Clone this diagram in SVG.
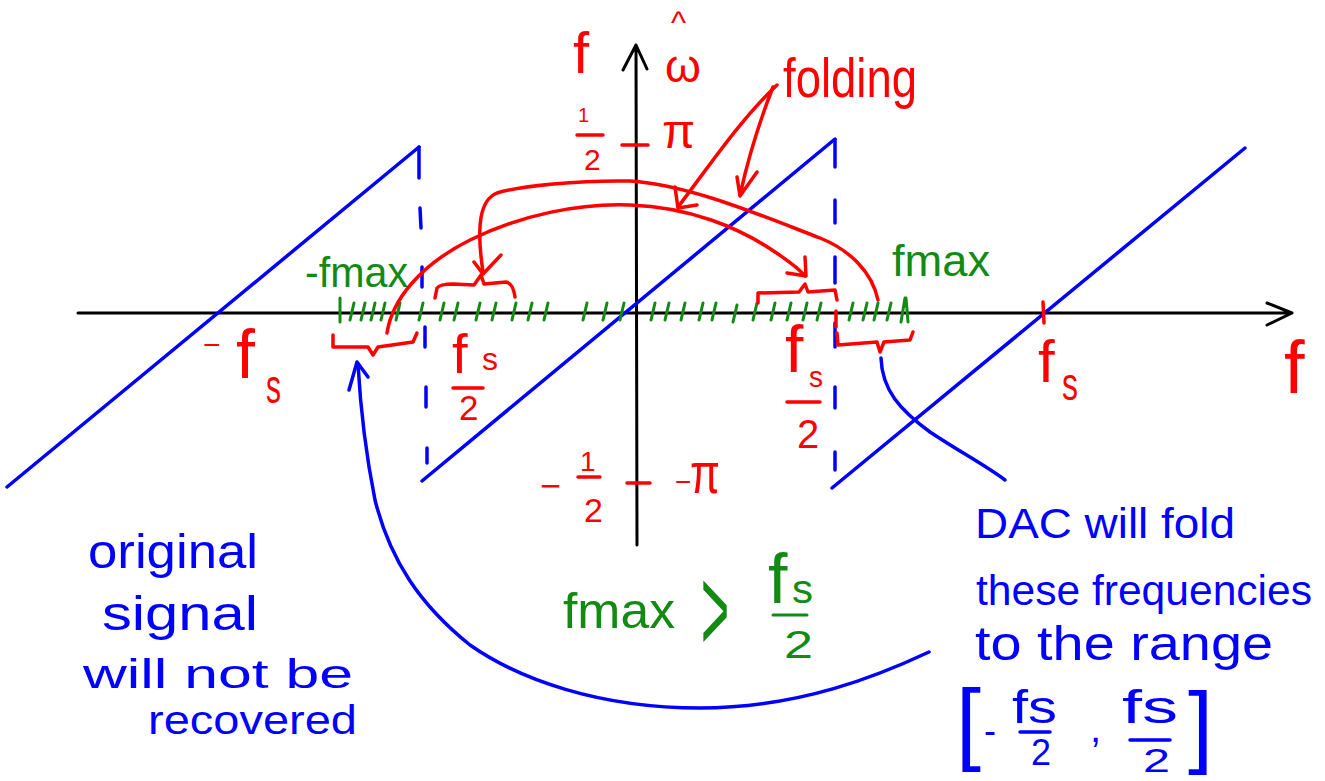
<svg xmlns="http://www.w3.org/2000/svg" width="1325" height="781" viewBox="0 0 1325 781">
<style>
.ax{stroke:#000;stroke-width:3;fill:none;stroke-linecap:round;stroke-linejoin:round}
.bl{stroke:#0000ff;stroke-width:3.5;fill:none;stroke-linecap:round;stroke-linejoin:round}
.rd{stroke:#ff0000;stroke-width:3.5;fill:none;stroke-linecap:round;stroke-linejoin:round}
.gr{stroke:#138a13;stroke-width:3;fill:none;stroke-linecap:round}
text{font-family:"Liberation Sans",Arial,sans-serif}
.rt{fill:#ff0000}
.bt{fill:#0000ff}
.gt{fill:#138a13}
</style>
<rect width="1325" height="781" fill="#fff"/>

<g id="axes">
  <path class="ax" d="M78,313 L1292,313 M1267,303 L1292,313 L1267,325"/>
  <path class="ax" d="M637,545 L636,45 M623,70 L636,45 L647,69"/>
</g>

<g id="sawtooth">
  <path class="bl" d="M7,487 L419,147 M422,481 L835,139 M832,488 L1245,148"/>
  <path class="bl" d="M419,147 L419,178 M420,208 L421,228 M422,267 L422,287 M425,327 L425,347 M426,387 L426,407 M427,448 L427,463"/>
  <path class="bl" d="M835,140 L835,167 M835,200 L835,223 M835,257 L835,283 M835,323 L835,347 M835,387 L835,408 M835,452 L835,470"/>
</g>

<g id="ticks">
  <path class="gr" d="M340,322 L340,298 M350,320 L354,303 M361,320 L365,303 M371,320 L375,303 M381,320 L385,303 M396,320 L400,303 M419,320 L423,303 M440,320 L444,303 M454,320 L458,303 M476,320 L480,303 M492,320 L496,303 M512,320 L516,303 M528,320 L532,303 M544,320 L548,303 M583,320 L587,303 M603,320 L607,303 M620,320 L624,303 M651,320 L655,303 M665,320 L669,303 M681,320 L685,303 M699,320 L703,303 M712,320 L716,303 M733,322 L737,305 M753,320 L757,303 M771,320 L775,303 M787,320 L791,303 M803,320 L807,303 M817,320 L821,303 M849,320 L853,303 M863,320 L867,303 M874,320 L878,303 M887,320 L891,303 M901,322 L905,298 M908,322 L906,298"/>
  <path class="rd" d="M1043,302 L1044,323 M836,311 L836,327 M622,145 L648,145 M627,483 L650,483"/>
</g>

<g id="brackets">
  <path class="rd" d="M333,335 L333,347 L368,347 L373,355 L378,347 L413,342 L417,333"/>
  <path class="rd" d="M435,298 L437,288 Q440,284 453,284 L474,285 L481,275 L484,284 L506,282 Q513,283 515,297"/>
  <path class="rd" d="M758,303 L758,293 L799,292 L805,284 L808,292 L835,290 L837,300"/>
  <path class="rd" d="M837,333 L838,345 L877,342 L880,352 L884,342 L910,340 L913,332"/>
</g>

<g id="connectors">
  <path class="rd" d="M387,333 C392,300 420,265 470,240 C520,215 580,203 630,205 C690,207 740,228 775,252 C790,262 800,270 805,276"/>
  <path class="rd" d="M787,273 L806,276 L805,257"/>
  <path class="rd" d="M878,300 C872,272 850,250 820,238 C760,215 690,185 630,181 C580,180 520,186 497,193 C480,200 476,225 483,272"/>
  <path class="rd" d="M474,262 L483,274 L501,255"/>
  <path class="rd" d="M777,85 C740,120 710,165 678,207 M675,187 L678,208 L697,205"/>
  <path class="rd" d="M773,87 C760,120 750,150 740,195 M737,177 L740,196 L757,172"/>
  <path class="bl" d="M881,358 C882,390 900,410 930,432 C960,452 985,465 1005,480"/>
  <path class="bl" d="M929,652 C880,675 800,708 700,708 C600,708 520,680 470,645 C420,605 390,560 375,500 C365,450 360,400 358,364"/>
  <path class="bl" d="M349,390 L357,362 L368,377"/>
</g>

<g id="red-labels">
  <text class="rt" x="573" y="73" font-size="58">f</text>
  <text class="rt" x="671" y="33" font-size="32">^</text>
  <text class="rt" x="665" y="82" font-size="46">ω</text>
  <text class="rt" x="578" y="122" font-size="20">1</text>
  <line class="rd" x1="577" y1="135" x2="603" y2="135"/>
  <text class="rt" x="584" y="170" font-size="30">2</text>
  <text class="rt" x="662" y="148" font-size="48">π</text>
  <text class="rt" x="540" y="498" font-size="36">−</text>
  <text class="rt" x="580" y="471" font-size="28">1</text>
  <line class="rd" x1="578" y1="477" x2="600" y2="477"/>
  <text class="rt" x="584" y="522" font-size="34">2</text>
  <text class="rt" x="675" y="491" font-size="28">−</text>
  <text class="rt" x="690" y="493" font-size="58" textLength="30" lengthAdjust="spacingAndGlyphs">π</text>
  <text class="rt" x="203" y="355" font-size="30">−</text>
  <text class="rt" x="236" y="378" font-size="68">f</text>
  <text class="rt" x="266" y="403" font-size="48" textLength="15" lengthAdjust="spacingAndGlyphs">s</text>
  <text class="rt" x="452" y="373" font-size="56">f</text>
  <text class="rt" x="482" y="370" font-size="32" textLength="16" lengthAdjust="spacingAndGlyphs">s</text>
  <line class="rd" x1="453" y1="388" x2="483" y2="388"/>
  <text class="rt" x="459" y="420" font-size="35">2</text>
  <text class="rt" x="785" y="372" font-size="66">f</text>
  <text class="rt" x="809" y="387" font-size="30" textLength="14" lengthAdjust="spacingAndGlyphs">s</text>
  <line class="rd" x1="787" y1="402" x2="820" y2="402"/>
  <text class="rt" x="797" y="448" font-size="40">2</text>
  <text class="rt" x="1038" y="382" font-size="60">f</text>
  <text class="rt" x="1062" y="400" font-size="46" textLength="16" lengthAdjust="spacingAndGlyphs">s</text>
  <text class="rt" x="1284" y="393" font-size="74">f</text>
  <text class="rt" x="783" y="97" font-size="56" textLength="134" lengthAdjust="spacingAndGlyphs">folding</text>
</g>

<g id="green-labels">
  <text class="gt" x="305" y="287" font-size="42" textLength="103" lengthAdjust="spacingAndGlyphs">-fmax</text>
  <text class="gt" x="892" y="276" font-size="44" textLength="98" lengthAdjust="spacingAndGlyphs">fmax</text>
  <text class="gt" x="563" y="628" font-size="50" textLength="112" lengthAdjust="spacingAndGlyphs">fmax</text>
  <text class="gt" transform="translate(715,651) scale(0.6,1.5)" text-anchor="middle" font-size="80">&gt;</text>
  <text class="gt" x="768" y="603" font-size="70">f</text>
  <text class="gt" x="792" y="603" font-size="40" textLength="21" lengthAdjust="spacingAndGlyphs">s</text>
  <line class="gr" x1="773" y1="615" x2="807" y2="615"/>
  <text class="gt" x="784" y="658" font-size="38" textLength="29" lengthAdjust="spacingAndGlyphs">2</text>
</g>

<g id="note-dac">
  <text class="bt" x="975" y="538" font-size="42" textLength="260" lengthAdjust="spacingAndGlyphs">DAC will fold</text>
  <text class="bt" x="976" y="605" font-size="43" textLength="336" lengthAdjust="spacingAndGlyphs">these frequencies</text>
  <text class="bt" x="975" y="660" font-size="48" textLength="298" lengthAdjust="spacingAndGlyphs">to the range</text>
  <text class="bt" x="956" y="753" font-size="90">[</text>
  <text class="bt" x="984" y="743" font-size="36">-</text>
  <text class="bt" x="1012" y="723" font-size="46" textLength="45" lengthAdjust="spacingAndGlyphs">fs</text>
  <line class="bl" x1="1020" y1="732" x2="1050" y2="732"/>
  <text class="bt" x="1031" y="765" font-size="36" textLength="20" lengthAdjust="spacingAndGlyphs">2</text>
  <text class="bt" x="1090" y="742" font-size="40">,</text>
  <text class="bt" x="1122" y="723" font-size="46" textLength="56" lengthAdjust="spacingAndGlyphs">fs</text>
  <line class="bl" x1="1130" y1="740" x2="1170" y2="740"/>
  <text class="bt" x="1143" y="772" font-size="34" textLength="27" lengthAdjust="spacingAndGlyphs">2</text>
  <text class="bt" x="1188" y="756" font-size="90">]</text>
</g>

<g id="note-original">
  <text class="bt" x="88" y="568" font-size="48" textLength="170" lengthAdjust="spacingAndGlyphs">original</text>
  <text class="bt" x="102" y="630" font-size="48" textLength="156" lengthAdjust="spacingAndGlyphs">signal</text>
  <text class="bt" x="83" y="688" font-size="40" textLength="270" lengthAdjust="spacingAndGlyphs">will not be</text>
  <text class="bt" x="148" y="734" font-size="40" textLength="209" lengthAdjust="spacingAndGlyphs">recovered</text>
</g>
</svg>
